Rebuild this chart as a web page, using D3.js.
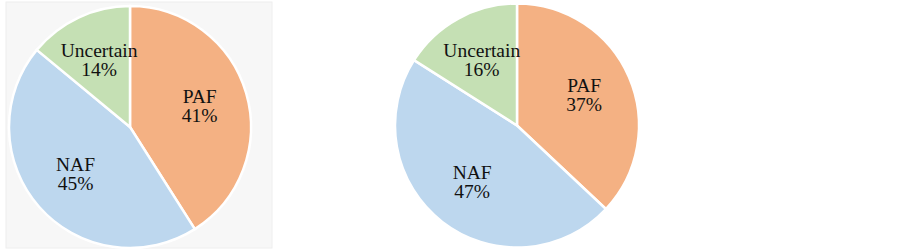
<!DOCTYPE html>
<html>
<head>
<meta charset="utf-8">
<title>Pie charts</title>
<style>
  body { margin: 0; background: #fff; }
  svg { display: block; }
  text { font-family: "Liberation Serif", "Times New Roman", serif; fill: #111; }
</style>
</head>
<body>
<svg width="903" height="251"></svg>
<script src="https://cdn.jsdelivr.net/npm/d3@7"></script>
<script>
// data
const categories = ["PAF", "NAF", "Uncertain"]
const leftValues = [41, 45, 14]
const rightValues = [37, 47, 16]
const colors = ["#f4b183", "#bdd7ee", "#c5e0b4"]

const svg = d3.select("svg")
const color = d3.scaleOrdinal().domain(categories).range(colors)

// grey panel behind the first pie
svg.append("rect")
  .attr("x", 6).attr("y", 2).attr("width", 266).attr("height", 246)
  .attr("fill", "#f7f7f7").attr("stroke", "#eeeeee")

const pie = d3.pie().sort(null).value(d => d.value)

function drawPie(values, cx, cy, r) {
  let data = categories.map((c, i) => ({ name: c, value: values[i] }))
  let arcs = pie(data)
  let arc = d3.arc().innerRadius(0).outerRadius(r)
  let labelArc = d3.arc().innerRadius(r * 0.6).outerRadius(r * 0.6)

  let g = svg.append("g").attr("transform", `translate(${cx},${cy})`)

  g.selectAll("path").data(arcs).enter().append("path")
    .attr("d", arc)
    .attr("fill", d => color(d.data.name))
    .attr("stroke", "#fff")
    .attr("stroke-width", 2.5)

  let t = g.selectAll("text").data(arcs).enter().append("text")
    .attr("text-anchor", "middle")
    .style("font-size", "19.5px")
    .attr("transform", d => `translate(${labelArc.centroid(d)})`)
  t.append("tspan").attr("x", 0).attr("y", -4).text(d => d.data.name)
  t.append("tspan").attr("x", 0).attr("y", 15).text(d => d.data.value + "%")
}

drawPie(leftValues, 130, 127, 121)
drawPie(rightValues, 517, 125.5, 122)
</script>
</body>
</html>
